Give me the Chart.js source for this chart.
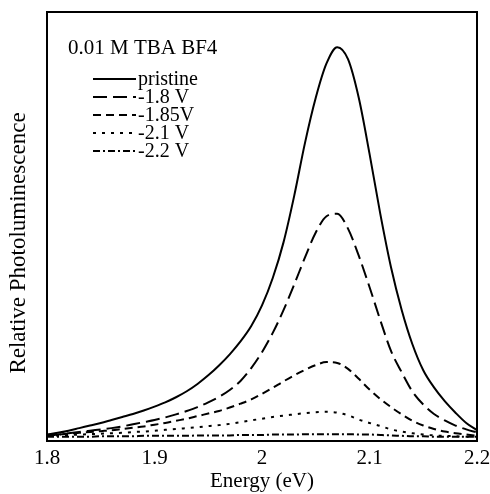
<!DOCTYPE html>
<html>
<head>
<meta charset="utf-8">
<script src="https://cdn.jsdelivr.net/npm/chart.js@4.4.1/dist/chart.umd.min.js"></script>
<style>
  html, body { margin: 0; padding: 0; background: #fff; }
  #wrap { width: 490px; height: 494px; }
</style>
</head>
<body>
<div id="wrap"><canvas id="myChart" width="490" height="494"></canvas></div>
<script>
// energy grid (eV) and the read-off curves
const energy = [1.80, 1.81, 1.82, 1.83, 1.84, 1.85, 1.86, 1.87, 1.88, 1.89, 1.90,
  1.91, 1.92, 1.93, 1.94, 1.95, 1.96, 1.97, 1.98, 1.99, 2.00,
  2.01, 2.02, 2.03, 2.04, 2.05, 2.06, 2.07, 2.08, 2.09, 2.10,
  2.11, 2.12, 2.13, 2.14, 2.15, 2.16, 2.17, 2.18, 2.19, 2.20]

const pristine = [0.015, 0.019, 0.024, 0.030, 0.036, 0.042, 0.049, 0.056, 0.063, 0.071, 0.080,
  0.090, 0.102, 0.116, 0.133, 0.153, 0.176, 0.202, 0.232, 0.268, 0.316,
  0.380, 0.463, 0.572, 0.695, 0.800, 0.880, 0.918, 0.890, 0.800, 0.670,
  0.530, 0.405, 0.305, 0.225, 0.165, 0.125, 0.093, 0.066, 0.042, 0.025]

const v18 = [0.012, 0.015, 0.018, 0.021, 0.024, 0.027, 0.030, 0.034, 0.039, 0.044, 0.049,
  0.055, 0.062, 0.070, 0.079, 0.090, 0.103, 0.119, 0.140, 0.170, 0.207,
  0.252, 0.305, 0.365, 0.428, 0.486, 0.524, 0.530, 0.495, 0.432, 0.359,
  0.282, 0.210, 0.160, 0.115, 0.085, 0.063, 0.048, 0.036, 0.027, 0.020]

const v185 = [0.013, 0.015, 0.017, 0.019, 0.021, 0.023, 0.025, 0.028, 0.031, 0.034, 0.038,
  0.042, 0.047, 0.052, 0.058, 0.064, 0.070, 0.078, 0.087, 0.097, 0.110,
  0.124, 0.139, 0.153, 0.166, 0.177, 0.184, 0.182, 0.168, 0.145, 0.120,
  0.098, 0.079, 0.062, 0.047, 0.036, 0.028, 0.022, 0.018, 0.015, 0.012]

const v21 = [0.012, 0.013, 0.014, 0.015, 0.016, 0.017, 0.018, 0.019, 0.021, 0.022, 0.024,
  0.026, 0.028, 0.030, 0.032, 0.035, 0.037, 0.040, 0.044, 0.048, 0.052,
  0.056, 0.059, 0.062, 0.065, 0.067, 0.068, 0.066, 0.060, 0.050, 0.042,
  0.035, 0.027, 0.022, 0.018, 0.015, 0.013, 0.012, 0.011, 0.010, 0.010]

const v22 = [0.010, 0.010, 0.010, 0.010, 0.010, 0.011, 0.011, 0.011, 0.011, 0.012, 0.012,
  0.012, 0.012, 0.012, 0.013, 0.013, 0.013, 0.013, 0.014, 0.014, 0.014,
  0.015, 0.015, 0.015, 0.016, 0.016, 0.016, 0.016, 0.016, 0.015, 0.015,
  0.014, 0.013, 0.012, 0.011, 0.011, 0.010, 0.010, 0.010, 0.010, 0.010]

const seriesLabels = ['pristine', '-1.8 V', '-1.85V', '-2.1 V', '-2.2 V']
const seriesValues = [pristine, v18, v185, v21, v22]
const seriesDash = [[], [14, 6], [8, 5], [3, 6], [7, 3, 2, 3]]
const xTicks = [1.8, 1.9, 2.0, 2.1, 2.2]

const serif = "'Liberation Serif', 'Times New Roman', serif"

const toPoints = vals => vals.map((v, i) => ({ x: energy[i], y: v }))

// frame, heading, legend block and y title
const framePlugin = {
  id: 'frame',
  afterDraw(chart) {
    const { ctx, chartArea: a } = chart
    ctx.save()
    ctx.strokeStyle = '#000'
    ctx.lineWidth = 2
    ctx.strokeRect(a.left, a.top, a.right - a.left, a.bottom - a.top)

    ctx.fillStyle = '#000'
    ctx.textBaseline = 'alphabetic'
    ctx.font = '21px ' + serif
    ctx.fillText('0.01 M TBA BF4', 68, 54)

    ctx.font = '20px ' + serif
    chart.data.datasets.forEach((ds, i) => {
      const base = 85 + i * 18
      ctx.beginPath()
      ctx.setLineDash(ds.borderDash)
      ctx.lineWidth = 2
      ctx.moveTo(93, base - 6)
      ctx.lineTo(136, base - 6)
      ctx.stroke()
      ctx.setLineDash([])
      ctx.fillText(ds.label, 138, base)
    })

    // y axis title
    ctx.translate(19, 243)
    ctx.rotate(-Math.PI / 2)
    ctx.textAlign = 'center'
    ctx.textBaseline = 'middle'
    ctx.font = '23px ' + serif
    ctx.fillText('Relative Photoluminescence', 0, 0)
    ctx.restore()
  },
}

const ctx = document.getElementById('myChart')

const myChart = new Chart(ctx, {
  type: 'line',
  data: {
    datasets: seriesLabels.map((label, i) => ({
      label,
      data: toPoints(seriesValues[i]),
      borderColor: '#000',
      borderWidth: 2,
      borderDash: seriesDash[i],
      pointRadius: 0,
      fill: false,
      cubicInterpolationMode: 'monotone',
    })),
  },
  options: {
    responsive: false,
    maintainAspectRatio: false,
    animation: false,
    layout: { padding: { top: 12, right: 13, left: 0, bottom: 0 } },
    plugins: {
      legend: { display: false },
      tooltip: { enabled: false },
    },
    scales: {
      x: {
        type: 'linear',
        min: 1.8,
        max: 2.2,
        afterBuildTicks: scale => {
          scale.ticks = xTicks.map(v => ({ value: v }))
        },
        afterFit: scale => {
          scale.height = 53
          scale.paddingLeft = 0
          scale.paddingRight = 0
        },
        grid: { display: false, drawTicks: false },
        border: { display: false },
        ticks: {
          color: '#000',
          font: { family: serif, size: 21 },
          padding: 5,
          maxRotation: 0,
          callback: v => String(Math.round(v * 10) / 10),
        },
        title: {
          display: true,
          text: 'Energy (eV)',
          color: '#000',
          font: { family: serif, size: 21 },
          padding: { top: 0, bottom: 0 },
        },
      },
      y: {
        min: 0,
        max: 1,
        afterFit: scale => {
          scale.width = 47
        },
        grid: { display: false, drawTicks: false },
        border: { display: false },
        ticks: { display: false },
      },
    },
  },
  plugins: [framePlugin],
})
</script>
</body>
</html>
